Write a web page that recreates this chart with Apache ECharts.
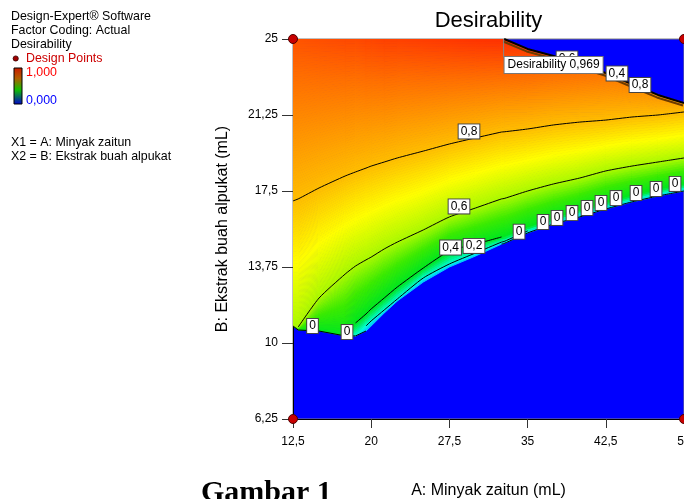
<!DOCTYPE html>
<html>
<head>
<meta charset="utf-8">
<script src="https://cdn.jsdelivr.net/npm/echarts@6/dist/echarts.min.js"></script>
<style>html,body{margin:0;padding:0;background:#fff}#c{width:684px;height:499px}</style>
</head>
<body>
<div id="c"></div>
<script>
// ---- data ----
const xTicks = [12.5, 20, 27.5, 35, 42.5, 50];
const yTicks = [6.25, 10, 13.75, 17.5, 21.25, 25];
// columns of the response surface (A: Minyak zaitun)
const xs       = [12.5, 13, 15, 17.5, 18.5, 19.5, 20, 21.25, 22.5, 25, 27.5, 30, 32.5, 32.75, 35, 37.5, 40, 42.5, 45, 47.5, 50];
// lower edge of the non-zero desirability region (B)
const edgeY    = [10.84, 10.64, 10.59, 10.35, 10.35, 10.59, 10.84, 11.48, 12.07, 13.01, 13.75, 14.29, 14.88, 14.91, 15.43, 15.87, 16.22, 16.61, 16.96, 17.25, 17.50];
// contour 0,2 / 0,4 / 0,6 / 0,8 (equal to edge where the contour does not exist)
const level02Y = [10.84, 10.64, 10.59, 10.35, 10.35, 10.84, 11.09, 11.63, 12.17, 13.21, 13.90, 14.44, 14.98, 15.01, 15.53, 15.97, 16.37, 16.71, 17.06, 17.35, 17.60];
const level04Y = [10.84, 10.64, 10.59, 10.35, 10.99, 11.43, 11.68, 12.22, 12.76, 13.70, 14.54, 14.88, 15.23, 15.25, 15.72, 16.17, 16.56, 16.96, 17.30, 17.60, 17.85];
const level06Y = [10.84, 10.79, 12.22, 13.40, 13.80, 14.10, 14.24, 14.64, 14.98, 15.58, 16.22, 16.66, 17.11, 17.13, 17.50, 17.85, 18.14, 18.49, 18.73, 18.93, 19.13];
const level08Y = [17.01, 17.11, 17.65, 18.24, 18.44, 18.63, 18.73, 18.93, 19.13, 19.47, 19.82, 20.12, 20.41, 20.42, 20.56, 20.76, 20.90, 21.00, 21.15, 21.25, 21.40];
// upper edge of the region and desirability just below it
const topY     = [25, 25, 25, 25, 25, 25, 25, 25, 25, 25, 25, 25, 25, 25, 24.51, 24.16, 23.72, 23.32, 22.78, 22.24, 21.84];
const topD     = [0.93, 0.93, 0.935, 0.94, 0.94, 0.945, 0.945, 0.95, 0.95, 0.955, 0.96, 0.965, 0.968, 0.969, 0.95, 0.93, 0.91, 0.89, 0.87, 0.85, 0.83];
const levelValues = [0.08, 0.2, 0.4, 0.6, 0.8];
const designPoints = [[12.5, 25], [50, 25], [12.5, 6.25], [50, 6.25]];
const optimum = [32.7, 25, 0.969];
const contourLabels = [
  [29.38, 20.44, '0,8'], [28.42, 16.74, '0,6'], [27.61, 14.71, '0,4'], [29.86, 14.79, '0,2'],
  [14.37, 10.84, '0'], [17.68, 10.54, '0'],
  [34.18, 15.49, '0'], [36.48, 15.97, '0'], [37.82, 16.17, '0'], [39.26, 16.41, '0'], [40.70, 16.66, '0'],
  [42.04, 16.91, '0'], [43.48, 17.15, '0'], [45.40, 17.40, '0'], [47.32, 17.60, '0'], [49.14, 17.85, '0'],
  [43.57, 23.30, '0,4'], [45.78, 22.73, '0,8']
];
const hiddenLabels = [[38.78, 24.04, '0,6']];

// ---- colour map ----
const cmap = [
  [0.0, [0, 0, 255]], [0.1, [0, 200, 255]], [0.2, [0, 255, 225]], [0.3, [0, 242, 120]],
  [0.4, [0, 232, 30]], [0.5, [60, 236, 0]], [0.6, [170, 250, 0]], [0.7, [255, 255, 0]],
  [0.8, [255, 190, 0]], [0.9, [255, 110, 0]], [1.0, [255, 20, 0]]
];
function colorOf(d) {
  d = Math.max(0, Math.min(1, d));
  for (let i = 0; i < cmap.length - 1; i++) {
    const a = cmap[i], b = cmap[i + 1];
    if (d <= b[0]) {
      const t = (d - a[0]) / (b[0] - a[0]);
      const c = a[1].map((v, k) => Math.round(v + (b[1][k] - v) * t));
      return 'rgb(' + c.join(',') + ')';
    }
  }
  return 'rgb(255,20,0)';
}
const nodesY = [edgeY, level02Y, level04Y, level06Y, level08Y, topY];
function renderField(params, api) {
  const children = [];
  for (let i = 0; i < xs.length - 1; i++) {
    for (let k = 0; k < 5; k++) {
      const L0 = api.coord([xs[i], nodesY[k][i]]), L1 = api.coord([xs[i], nodesY[k + 1][i]]);
      const R0 = api.coord([xs[i + 1], nodesY[k][i + 1]]), R1 = api.coord([xs[i + 1], nodesY[k + 1][i + 1]]);
      const thick = Math.max(L0[1] - L1[1], R0[1] - R1[1]);
      if (thick <= 0.05) continue;
      const S = Math.max(1, Math.ceil(thick / 2.5));
      const dLo = levelValues[k];
      const dHiL = k + 1 < 5 ? levelValues[k + 1] : topD[i];
      const dHiR = k + 1 < 5 ? levelValues[k + 1] : topD[i + 1];
      for (let j = 0; j < S; j++) {
        const t0 = j / S, t1 = (j + 1) / S, tm = (j + 0.5) / S;
        const cL = colorOf(dLo + (dHiL - dLo) * tm);
        const cR = colorOf(dLo + (dHiR - dLo) * tm);
        let fill = cL;
        if (cL !== cR) {
          fill = new echarts.graphic.LinearGradient(L0[0], 0, R0[0], 0,
            [{ offset: 0, color: cL }, { offset: 1, color: cR }], true);
        }
        const pts = [
          [L0[0], L0[1] + (L1[1] - L0[1]) * t0],
          [R0[0], R0[1] + (R1[1] - R0[1]) * t0],
          [R0[0], R0[1] + (R1[1] - R0[1]) * t1],
          [L0[0], L0[1] + (L1[1] - L0[1]) * t1]
        ];
        children.push({ type: 'polygon', shape: { points: pts }, style: { fill: fill, stroke: fill, lineWidth: 1 } });
      }
    }
  }
  return { type: 'group', children };
}
function seg(arr, from, to) {
  const out = [];
  for (let i = from; i <= to; i++) out.push([xs[i], arr[i]]);
  return out;
}
const fmt = v => String(v).replace('.', ',');
const FONT = 'Liberation Sans, Arial, sans-serif';

const chart = echarts.init(document.getElementById('c'), null, { renderer: 'canvas' });
const lineBase = { type: 'line', symbol: 'none', silent: true, z: 3, smooth: 0.2, lineStyle: { color: '#000', width: 1 } };
const labelStyle = {
  show: true, position: 'inside', formatter: p => p.data[2], fontSize: 12, fontFamily: FONT, color: '#000',
  backgroundColor: '#fff', borderColor: '#444', borderWidth: 1, padding: [1, 2], opacity: 1
};
chart.setOption({
  animation: false,
  grid: { left: 293, top: 39, width: 391, height: 380, show: true, containLabel: false, outerBoundsMode: 'none',
    backgroundColor: '#0000ff', borderColor: '#808080', borderWidth: 1 },
  xAxis: {
    type: 'value', min: xTicks[0], max: xTicks[xTicks.length - 1], interval: xTicks[1] - xTicks[0],
    axisLine: { show: true, onZero: false, lineStyle: { color: '#000', width: 1 } },
    axisTick: { show: true, length: 9, lineStyle: { color: '#333' } },
    axisLabel: { formatter: fmt, fontSize: 12, fontFamily: FONT, color: '#000', margin: 17 },
    splitLine: { show: false },
    name: 'A: Minyak zaitun (mL)', nameLocation: 'middle', nameGap: 64,
    nameTextStyle: { fontSize: 16, fontFamily: FONT, color: '#000' }
  },
  yAxis: {
    type: 'value', min: yTicks[0], max: yTicks[yTicks.length - 1], interval: yTicks[1] - yTicks[0],
    axisLine: { show: true, onZero: false, lineStyle: { color: '#000', width: 1 } },
    axisTick: { show: true, length: 11, lineStyle: { color: '#333' } },
    axisLabel: { formatter: fmt, fontSize: 12, fontFamily: FONT, color: '#000', margin: 15 },
    splitLine: { show: false },
    name: 'B: Ekstrak buah alpukat (mL)', nameLocation: 'middle', nameGap: 62,
    nameTextStyle: { fontSize: 16, fontFamily: FONT, color: '#000' }
  },
  series: [
    { type: 'custom', silent: true, z: 1, data: [[xs[0], edgeY[0]]], renderItem: renderField, clip: true },
    Object.assign({}, lineBase, { data: seg(level08Y, 0, xs.length - 1) }),
    Object.assign({}, lineBase, { data: seg(level06Y, 1, xs.length - 1) }),
    Object.assign({}, lineBase, { data: seg(level04Y, 4, 12) }),
    Object.assign({}, lineBase, { data: seg(level02Y, 5, 14) }),
    Object.assign({}, lineBase, { smooth: false, data: seg(edgeY, 0, 5) }),
    Object.assign({}, lineBase, { data: seg(edgeY, 12, xs.length - 1) }),
    Object.assign({}, lineBase, { smooth: false, data: seg(topY, 13, xs.length - 1),
      lineStyle: { color: '#000', width: 2, shadowColor: '#6b3a00', shadowOffsetY: 2.5, shadowOffsetX: -1, shadowBlur: 0 } }),
    { type: 'scatter', silent: true, z: 5, symbolSize: 0.1, itemStyle: { color: '#fff', opacity: 1 }, clip: false,
      data: contourLabels.concat(hiddenLabels), label: labelStyle },
    { type: 'line', silent: true, z: 6, symbol: 'none', lineStyle: { color: '#888', width: 1 },
      data: [[optimum[0], optimum[1]], [optimum[0], optimum[1] - 0.9]] },
    { type: 'scatter', silent: true, z: 7, symbolSize: 0.1, itemStyle: { color: '#fff', opacity: 1 }, clip: false,
      data: [optimum],
      label: { show: true, position: [1, 18], align: 'left', verticalAlign: 'top', opacity: 1,
        formatter: p => 'Desirability ' + fmt(p.data[2]), fontSize: 12, fontFamily: FONT, color: '#000',
        backgroundColor: '#fff', borderColor: '#777', borderWidth: 1, padding: [2, 3] } },
    { type: 'scatter', silent: true, z: 8, symbol: 'circle', symbolSize: 9, clip: false,
      itemStyle: { color: '#c80000', borderColor: '#500000', borderWidth: 1, opacity: 1 }, data: designPoints }
  ],
  graphic: [
    { type: 'text', x: 488.5, y: 21, style: { text: 'Desirability', fontSize: 22, fontFamily: FONT, fill: '#000', align: 'center', verticalAlign: 'middle' } },
    { type: 'text', x: 11, y: 16.5, style: { text: 'Design-Expert® Software', fontSize: 12.4, fontFamily: FONT, fill: '#000', verticalAlign: 'middle' } },
    { type: 'text', x: 11, y: 30.5, style: { text: 'Factor Coding: Actual', fontSize: 12.4, fontFamily: FONT, fill: '#000', verticalAlign: 'middle' } },
    { type: 'text', x: 11, y: 44.5, style: { text: 'Desirability', fontSize: 12.4, fontFamily: FONT, fill: '#000', verticalAlign: 'middle' } },
    { type: 'circle', shape: { cx: 15.7, cy: 58.5, r: 2.6 }, style: { fill: '#a00000', stroke: '#300', lineWidth: 0.8 } },
    { type: 'text', x: 26, y: 58.5, style: { text: 'Design Points', fontSize: 12.4, fontFamily: FONT, fill: '#cc0000', verticalAlign: 'middle' } },
    { type: 'rect', shape: { x: 14, y: 68, width: 8, height: 36 },
      style: { stroke: '#000', lineWidth: 1,
        fill: new echarts.graphic.LinearGradient(0, 0, 0, 1, [
          { offset: 0, color: '#cc1800' }, { offset: 0.3, color: '#b06000' },
          { offset: 0.6, color: '#10c000' }, { offset: 1, color: '#0000d0' }]) } },
    { type: 'text', x: 26, y: 72.5, style: { text: '1,000', fontSize: 12.4, fontFamily: FONT, fill: '#ff0000', verticalAlign: 'middle' } },
    { type: 'text', x: 26, y: 100.5, style: { text: '0,000', fontSize: 12.4, fontFamily: FONT, fill: '#0000ff', verticalAlign: 'middle' } },
    { type: 'text', x: 11, y: 143, style: { text: 'X1 = A: Minyak zaitun', fontSize: 12.4, fontFamily: FONT, fill: '#000', verticalAlign: 'middle' } },
    { type: 'text', x: 11, y: 157, style: { text: 'X2 = B: Ekstrak buah alpukat', fontSize: 12.4, fontFamily: FONT, fill: '#000', verticalAlign: 'middle' } },
    { type: 'text', x: 201, y: 493, style: { text: 'Gambar 1', fontSize: 30, fontWeight: 'bold', fontFamily: 'Liberation Serif, Times New Roman, serif', fill: '#000', verticalAlign: 'middle' } }
  ]
});
</script>
</body>
</html>
